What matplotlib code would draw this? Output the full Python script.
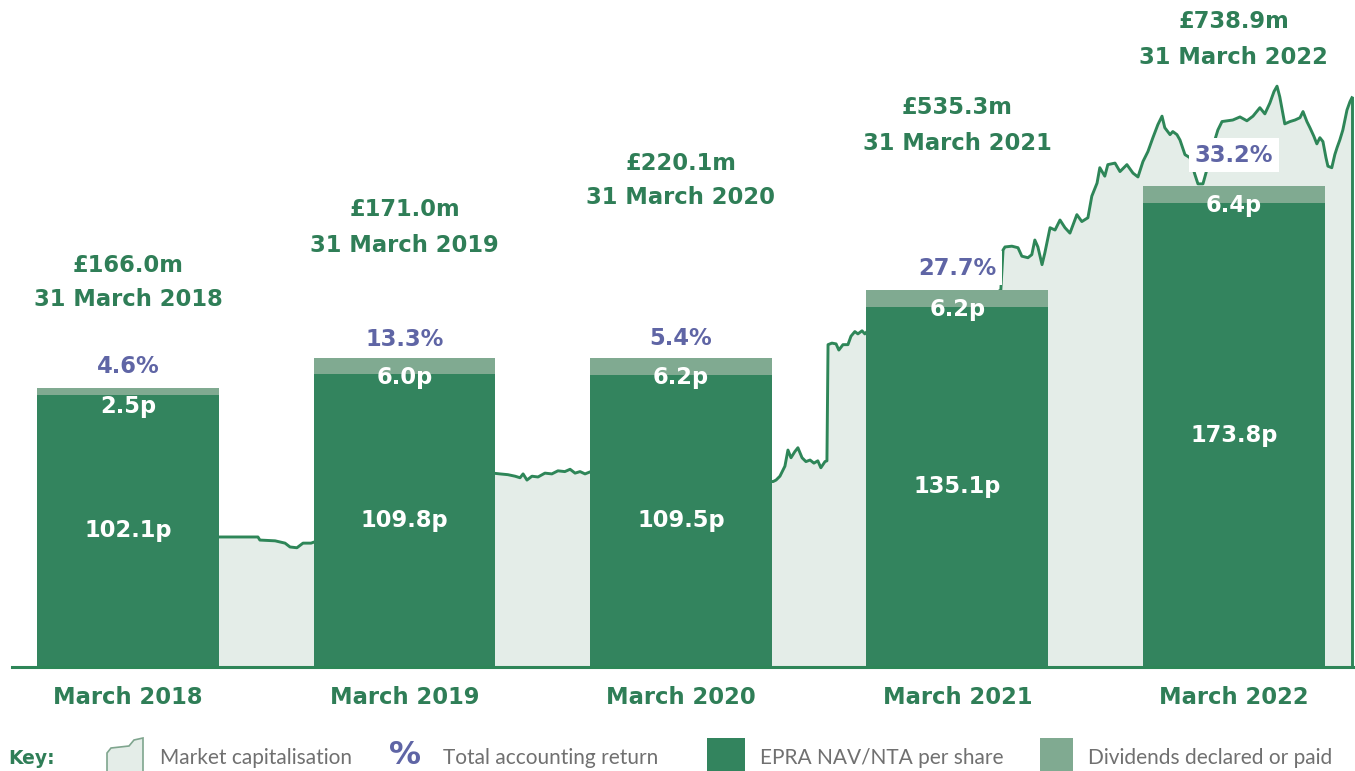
import matplotlib
matplotlib.use('Agg')
import matplotlib.pyplot as plt
from matplotlib.transforms import blended_transform_factory
from matplotlib.patches import Polygon, Rectangle

# bars: EPRA NAV/NTA per share + dividends (pence)
x_pos = [0, 1, 2, 3, 4]
x_labels = ['March 2018', 'March 2019', 'March 2020', 'March 2021', 'March 2022']
nav = [102.1, 109.8, 109.5, 135.1, 173.8]
divs = [2.5, 6.0, 6.2, 6.2, 6.4]
tar = ['4.6%', '13.3%', '5.4%', '27.7%', '33.2%']
mcap_labels = ['£166.0m', '£171.0m', '£220.1m', '£535.3m', '£738.9m']
mcap_dates = ['31 March 2018', '31 March 2019', '31 March 2020', '31 March 2021', '31 March 2022']

# market capitalisation trace (years since March 2018, £m)
mcap_t = [-0.300, 0.329, 0.470, 0.477, 0.532, 0.568, 0.586, 0.611, 0.633, 0.662, 0.694,
          1.273, 1.320, 1.345, 1.374, 1.400, 1.418, 1.429, 1.443, 1.461, 1.483, 1.508,
          1.533, 1.555, 1.580, 1.599, 1.617, 1.635, 1.653, 1.674, 1.707,
          2.286, 2.333, 2.344, 2.358, 2.376, 2.387, 2.398, 2.412, 2.423, 2.438, 2.452,
          2.467, 2.481, 2.495, 2.506, 2.521, 2.528, 2.532, 2.546, 2.561, 2.571, 2.586,
          2.604, 2.615, 2.629, 2.640, 2.655, 2.665, 2.676, 2.684,
          2.792, 2.973, 3.118, 3.157, 3.165, 3.172, 3.197, 3.219, 3.233, 3.255, 3.269,
          3.280, 3.291, 3.306, 3.316, 3.335, 3.353, 3.371, 3.389, 3.407, 3.432, 3.450,
          3.472, 3.486, 3.505, 3.515, 3.533, 3.544, 3.570, 3.588, 3.613, 3.635, 3.653,
          3.671, 3.689, 3.707, 3.725, 3.740, 3.750, 3.769, 3.779, 3.794, 3.805, 3.823,
          3.841, 3.859, 3.870, 3.888, 3.902, 3.920, 3.942, 3.957, 3.978, 3.996, 4.022,
          4.047, 4.069, 4.094, 4.112, 4.130, 4.145, 4.156, 4.166, 4.184, 4.203, 4.221,
          4.239, 4.250, 4.264, 4.275, 4.289, 4.300, 4.311, 4.322, 4.333, 4.340, 4.354,
          4.365, 4.373, 4.383, 4.394, 4.409, 4.420, 4.427]
mcap_v = [169, 169, 169, 165, 164, 161, 156, 155, 161, 161, 165,
          251, 252, 251, 250, 248, 246, 251, 243, 248, 247, 252,
          251, 255, 254, 257, 252, 254, 251, 254, 254,
          243, 241, 243, 248, 261, 282, 272, 280, 285, 272, 267,
          269, 265, 268, 259, 267, 268, 419, 421, 420, 412, 419,
          419, 430, 436, 433, 437, 433, 437, 438,
          451, 471, 482, 490, 542, 546, 547, 545, 534, 532, 536,
          555, 546, 523, 538, 571, 568, 581, 571, 564, 588, 579,
          584, 612, 629, 649, 638, 653, 655, 644, 653, 642, 637,
          657, 670, 688, 705, 716, 701, 692, 696, 692, 685, 666,
          662, 640, 628, 628, 646, 672, 698, 709, 710, 711, 715,
          710, 716, 727, 719, 733, 748, 755, 741, 706, 709, 711,
          714, 722, 709, 701, 690, 680, 688, 683, 662, 651, 649,
          666, 675, 685, 698, 724, 735, 740]

dark = '#33845E'
light_div = '#80AA91'
fill_c = '#E4EDE8'
line_c = '#2E8658'
purple = '#5F65A5'
green_txt = '#2F7E57'
grey = '#707070'
FONT = 'DejaVu Sans'

W, H = 1355, 771
fig = plt.figure(figsize=(W / 100, H / 100), dpi=100)
ax = fig.add_axes([0, 104 / H, 1, 667 / H])
ax.set_xlim(-0.463, 4.438)
ax.set_ylim(0, 250)
ax.axis('off')

ax2 = ax.twinx()
ax2.set_ylim(0, 867)
ax2.axis('off')
ax.set_zorder(ax2.get_zorder() + 1)
ax.patch.set_visible(False)

ax2.fill_between(mcap_t, mcap_v, 0, color=fill_c, lw=0)
ax2.plot(mcap_t, mcap_v, color=line_c, lw=2.1, solid_joinstyle='round')
ax2.plot([mcap_t[-1], mcap_t[-1]], [mcap_v[-1], 0], color=line_c, lw=2.1)

ax.bar(x_pos, nav, width=0.658, color=dark, lw=0)
ax.bar(x_pos, divs, bottom=nav, width=0.658, color=light_div, lw=0)
ax.axhline(0, xmin=12 / W, xmax=1, color=line_c, lw=2.2, clip_on=False)

bold = dict(fontfamily=FONT, fontweight='bold', fontsize=16.3, ha='center', va='center')
pct_pad = [21, 19, 20, 22, 31]
for i, x in enumerate(x_pos):
    top = nav[i] + divs[i]
    ax.text(x, nav[i] / 2, f'{nav[i]:.1f}p', color='white', **bold)
    ax.annotate(f'{divs[i]:.1f}p', (x, top), xytext=(0, -19 * 0.72),
                textcoords='offset points', color='white', **bold)
    ax.annotate(tar[i], (x, top), xytext=(0, pct_pad[i] * 0.72),
                textcoords='offset points', color=purple,
                bbox=dict(facecolor='white', edgecolor='none', pad=4), **bold)

# market cap labels and month labels (rows in pixels from the top)
ftr = blended_transform_factory(ax.transData, fig.transFigure)
cap_rows = [265, 210, 163, 108, 22]
for i, x in enumerate(x_pos):
    ax.text(x, 1 - cap_rows[i] / H, mcap_labels[i], color=green_txt, transform=ftr, **bold)
    ax.text(x, 1 - (cap_rows[i] + 35) / H, mcap_dates[i], color=green_txt, transform=ftr, **bold)
    ax.text(x, 1 - 698 / H, x_labels[i], color=green_txt, transform=ftr, **bold)

# key
def fy(r):
    return 1 - r / H

fig.text(8 / W, fy(758), 'Key:', color=green_txt, fontfamily=FONT, fontweight='bold',
         fontsize=13.5, ha='left', va='center')
icon = [(107, 772), (107, 753), (111, 748), (129, 746), (134, 740), (143, 738), (143, 772)]
fig.patches.append(Polygon([(px / W, fy(py)) for px, py in icon], closed=True,
                           transform=fig.transFigure, facecolor=fill_c,
                           edgecolor='#7FA58E', lw=1.2))
fig.text(405 / W, fy(756), '%', color=purple, fontfamily=FONT, fontweight='bold',
         fontsize=23, ha='center', va='center')
fig.patches.append(Rectangle((707 / W, 0), 38 / W, (771 - 738) / H,
                             transform=fig.transFigure, facecolor=dark, lw=0))
fig.patches.append(Rectangle((1040 / W, 0), 33 / W, (771 - 738) / H,
                             transform=fig.transFigure, facecolor=light_div, lw=0))
key_items = [(160, 'Market capitalisation'), (443, 'Total accounting return'),
             (760, 'EPRA NAV/NTA per share'), (1088, 'Dividends declared or paid')]
for px, txt in key_items:
    fig.text(px / W, fy(758), txt, color=grey, fontfamily='Lato', fontweight='normal',
             fontsize=15, ha='left', va='center')

fig.savefig('out.png', dpi=100)
